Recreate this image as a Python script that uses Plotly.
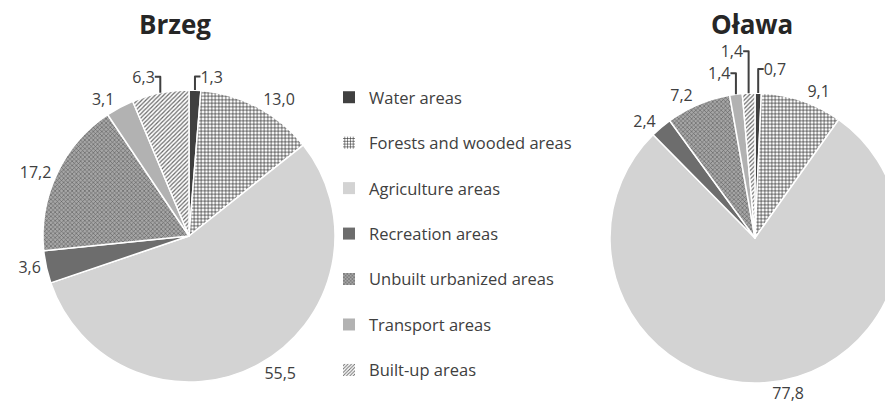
import plotly.graph_objects as go

categories = ["Water areas", "Forests and wooded areas", "Agriculture areas",
              "Recreation areas", "Unbuilt urbanized areas", "Transport areas",
              "Built-up areas"]
brzeg_values = [1.3, 13.0, 55.5, 3.6, 17.2, 3.1, 6.3]
olawa_values = [0.7, 9.1, 77.8, 2.4, 7.2, 1.4, 1.4]
titles = ["Brzeg", "Oława"]

bg = ["#404040", "#ffffff", "#d3d3d3", "#6d6d6d", "#a6a6a6", "#b2b2b2", "#ffffff"]
fg = ["#404040", "#262626", "#d3d3d3", "#6d6d6d", "#5c5c5c", "#b2b2b2", "#6a6a6a"]
shapes = ["", "+", "", "", "x", "", "/"]
sizes = [6, 3.5, 6, 6, 3, 6, 3]
solid = [0.3, 0.35, 0.3, 0.3, 0.35, 0.3, 0.4]

FONT = "Open Sans"
TXT = "#404040"

def fmt(v):
    return f"{v:.1f}".replace(".", ",")

W, H = 900, 405

def dom(cx, cy, r):
    return dict(x=[(cx - r) / W, (cx + r) / W], y=[(H - cy - r) / H, (H - cy + r) / H])

fig = go.Figure()
for vals, d in [(brzeg_values, dom(189, 236, 146)), (olawa_values, dom(755, 238, 145))]:
    fig.add_trace(go.Pie(
        labels=categories, values=vals, text=[fmt(v) for v in vals],
        textinfo="text", textposition="outside", sort=False, direction="clockwise",
        rotation=0, domain=d, showlegend=False, automargin=False,
        outsidetextfont=dict(family=FONT, size=16, color=TXT),
        marker=dict(colors=bg, line=dict(color="white", width=1.5),
                    pattern=dict(shape=shapes, bgcolor=bg, fgcolor=fg, size=sizes,
                                 solidity=solid, fillmode="replace")),
        hoverinfo="label+text",
    ))

for i, c in enumerate(categories):
    fig.add_trace(go.Bar(
        x=[None], y=[None], name=c, legendgroup=c, showlegend=True,
        marker=dict(color=bg[i], line=dict(width=0),
                    pattern=dict(shape=shapes[i], bgcolor=bg[i], fgcolor=fg[i],
                                 size=sizes[i], solidity=solid[i], fillmode="replace")),
    ))

for t, xc in zip(titles, [175, 752]):
    fig.add_annotation(text=f"<b>{t}</b>", x=xc / W, y=1 - 24 / H, xref="paper", yref="paper",
                       xanchor="center", yanchor="middle",
                       showarrow=False, font=dict(family=FONT, size=26, color="#262626"))

fig.update_layout(
    width=W, height=H, margin=dict(l=0, r=0, t=0, b=0, autoexpand=False),
    paper_bgcolor="white", plot_bgcolor="white",
    xaxis=dict(visible=False, domain=[0.40, 0.41]), yaxis=dict(visible=False, domain=[0.5, 0.51]),
    legend=dict(x=329 / W, y=1 - 80 / H, xanchor="left", yanchor="top", yref="container",
                font=dict(family=FONT, size=16.5, color=TXT), tracegroupgap=21,
                traceorder="grouped", bgcolor="rgba(0,0,0,0)", maxheight=330),
    showlegend=True,
)

fig.write_html("out.html", config={"displayModeBar": False},
               post_script="document.body.style.margin='0';document.body.style.overflow='hidden';")
